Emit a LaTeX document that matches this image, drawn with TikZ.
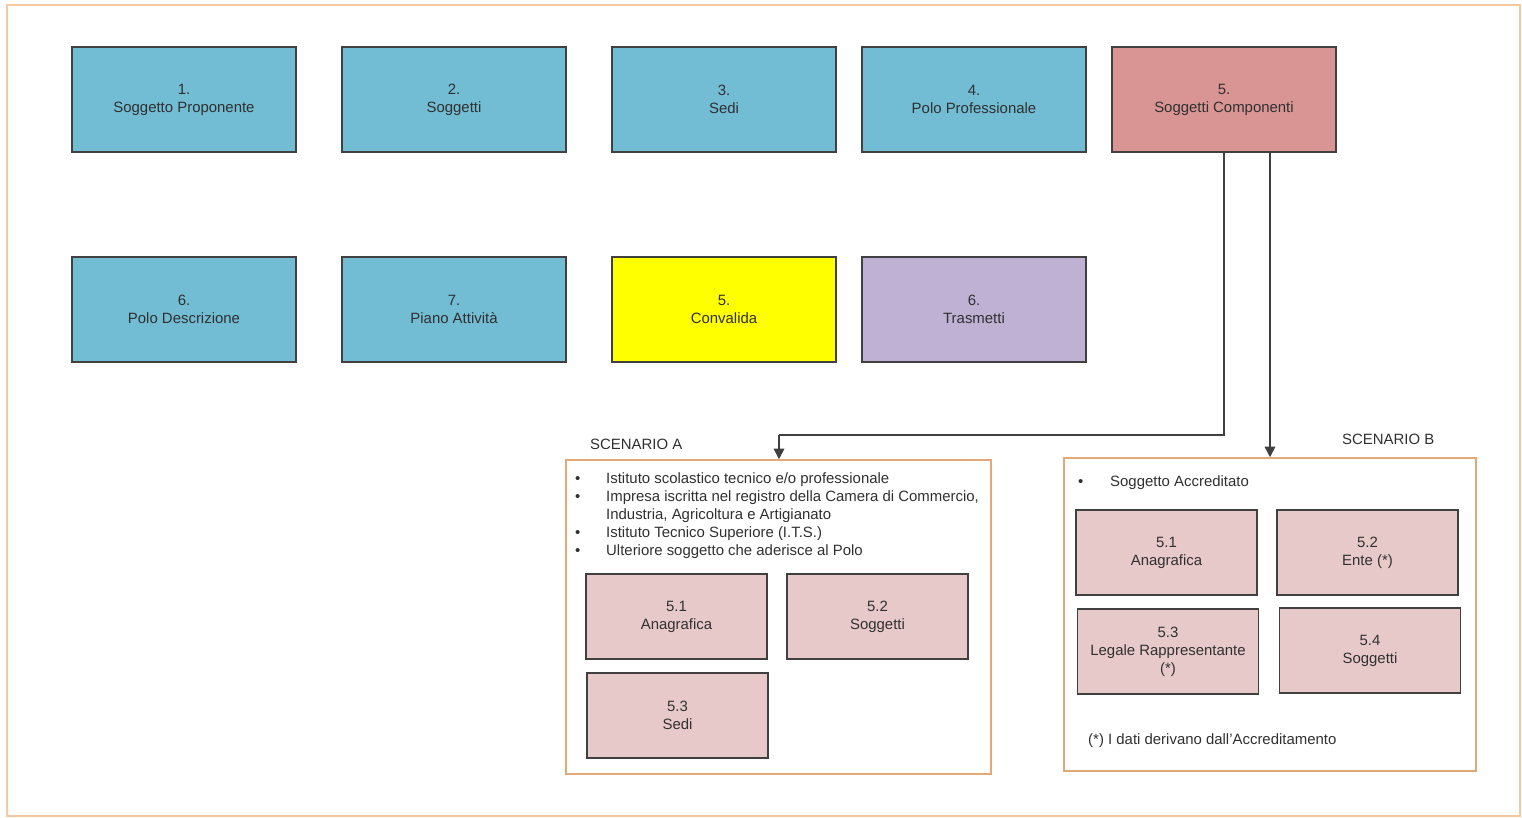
\documentclass[tikz,border=0pt]{standalone}
\usepackage{fontspec}
\setmainfont{Liberation Sans}
\usetikzlibrary{arrows.meta}
\definecolor{bluebox}{HTML}{72BCD4}
\definecolor{salmon}{HTML}{D99594}
\definecolor{yelbox}{HTML}{FFFF00}
\definecolor{purbox}{HTML}{BFB1D4}
\definecolor{pinkbox}{HTML}{E8C9C9}
\definecolor{edgegray}{HTML}{404040}
\definecolor{txtgray}{HTML}{303030}
\definecolor{outerorange}{HTML}{F5C9A0}
\definecolor{scenorange}{HTML}{E2A878}
\begin{document}
\begin{tikzpicture}[x=0.02cm,y=-0.02cm,
  every node/.style={font=\fontsize{8.5}{10.2}\selectfont, text=txtgray},
  mainbox/.style={draw=edgegray, line width=1.1pt, minimum width=4.48cm, minimum height=2.1cm, align=center, inner sep=0pt},
  subbox/.style={draw=edgegray, line width=1.1pt, fill=pinkbox, minimum width=3.62cm, minimum height=1.7cm, align=center, inner sep=0pt},
  scenbox/.style={draw=scenorange, line width=0.9pt},
  conn/.style={draw=edgegray, line width=0.9pt},
  arr/.style={conn, -{Triangle[length=6pt,width=6pt]}}
]
\useasboundingbox (0,0) rectangle (1522,818);
\draw[draw=outerorange, line width=1pt] (7,5) rectangle (1520,816);

% row 1
\node[mainbox, fill=bluebox] (b1) at (184,99.5) {1.\\Soggetto Proponente};
\node[mainbox, fill=bluebox] (b2) at (454,99.5) {2.\\Soggetti};
\node[mainbox, fill=bluebox] (b3) at (724,99.5) {3.\\Sedi};
\node[mainbox, fill=bluebox] (b4) at (974,99.5) {4.\\Polo Professionale};
\node[mainbox, fill=salmon] (b5) at (1224,99.5) {5.\\Soggetti Componenti};
% row 2
\node[mainbox, fill=bluebox] (c6) at (184,309.5) {6.\\Polo Descrizione};
\node[mainbox, fill=bluebox] (c7) at (454,309.5) {7.\\Piano Attività};
\node[mainbox, fill=yelbox] (c5) at (724,309.5) {5.\\Convalida};
\node[mainbox, fill=purbox] (c6b) at (974,309.5) {6.\\Trasmetti};

% scenario boxes
\node[scenbox, minimum width=8.5cm, minimum height=6.28cm, inner sep=0pt] (sa) at (778.5,617) {};
\node[scenbox, minimum width=8.24cm, minimum height=6.26cm, inner sep=0pt] (sb) at (1270,614.5) {};
\node[anchor=west] (la) at (584,444) {SCENARIO A};
\node[anchor=west] (lb) at (1336,439) {SCENARIO B};

% connectors
\coordinate (k1) at (1224,435);
\coordinate (k2) at (779,435);
\draw[conn] (b5.south) -- (k1) -- (k2);
\draw[arr] (k2) -- (k2 |- sa.north);
\draw[arr] (b5.south -| 1270,0) -- (1270,0 |- sb.north);

% scenario A bullets
\node[anchor=west] (a1b) at (569,480) {\textbullet};
\node[anchor=west] (a1) at (600,480) {Istituto scolastico tecnico e/o professionale};
\node[anchor=west] (a2b) at (569,498) {\textbullet};
\node[anchor=west] (a2) at (600,498) {Impresa iscritta nel registro della Camera di Commercio,};
\node[anchor=west] (a2c) at (600,516) {Industria, Agricoltura e Artigianato};
\node[anchor=west] (a3b) at (569,534) {\textbullet};
\node[anchor=west] (a3) at (600,534) {Istituto Tecnico Superiore (I.T.S.)};
\node[anchor=west] (a4b) at (569,552) {\textbullet};
\node[anchor=west] (a4) at (600,552) {Ulteriore soggetto che aderisce al Polo};

\node[subbox] (sa1) at (676.5,616.5) {5.1\\Anagrafica};
\node[subbox] (sa2) at (877.5,616.5) {5.2\\Soggetti};
\node[subbox] (sa3) at (677.5,715.5) {5.3\\Sedi};

% scenario B
\node[anchor=west] (b1b) at (1072,483) {\textbullet};
\node[anchor=west] (bb1) at (1104,483) {Soggetto Accreditato};
\node[subbox] (sb1) at (1166.5,552.5) {5.1\\Anagrafica};
\node[subbox] (sb2) at (1367.5,552.5) {5.2\\Ente (*)};
\node[subbox] (sb3) at (1168,651.5) {5.3\\Legale Rappresentante\\(*)};
\node[subbox] (sb4) at (1370,650.5) {5.4\\Soggetti};
\node[anchor=west] (note) at (1082,741) {(*) I dati derivano dall’Accreditamento};
\end{tikzpicture}
\end{document}
